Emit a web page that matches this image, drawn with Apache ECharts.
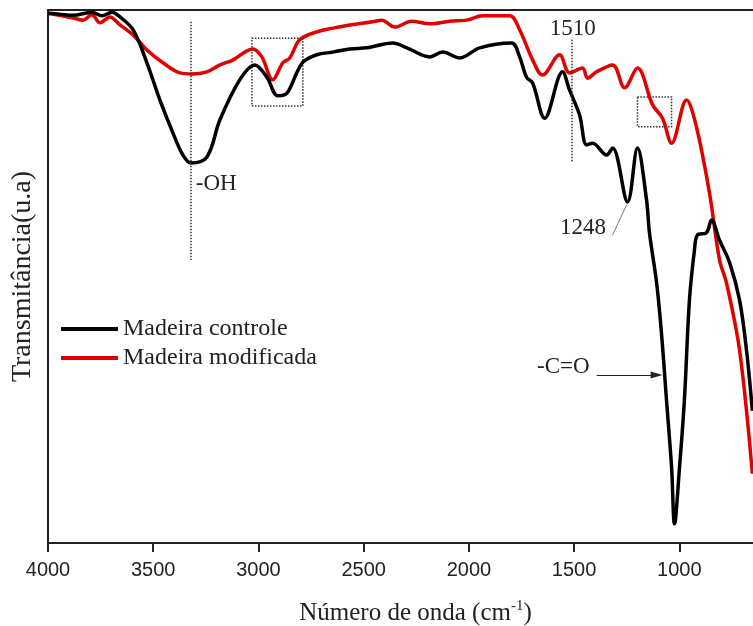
<!DOCTYPE html>
<html><head><meta charset="utf-8">
<script src="https://cdn.jsdelivr.net/npm/echarts@6/dist/echarts.min.js"></script>
<style>html,body{margin:0;padding:0;background:#fff}#c{width:753px;height:626px}</style>
</head><body><div id="c"></div>
<script>
// wavenumber (cm-1) and transmittance (a.u.)
const controlWn = [4000,3943,3881,3791,3744,3696,3658,3596,3530,3468,3406,3359,3321,3245,3183,3089,3017,2960,2908,2865,2818,2789,2723,2647,2566,2485,2362,2295,2186,2125,2044,1949,1797,1759,1726,1697,1640,1555,1522,1474,1441,1412,1346,1317,1246,1199,1156,1142,1108,1085,1061,1037,1023,999,976,952,928,914,871,847,809,762,714,681,653];
const controlT  = [99.4,99.2,99.0,99.6,98.9,99.6,98.7,96.3,90.1,83.1,76.9,72.8,71.3,72.4,79.4,86.9,89.7,87.4,83.9,84.4,88.2,90.2,91.6,92.1,92.7,92.9,93.8,92.9,91.2,92.1,91.0,92.9,93.8,91.2,87.4,86.3,79.7,88.4,85.0,80.3,74.7,75.0,72.8,74.1,64.0,74.1,64.4,58.2,48.8,39.4,26.8,14.3,3.6,14.3,26.8,45.6,55.0,57.8,58.2,60.6,56.8,52.7,45.6,36.2,24.8];
const modWn = [4000,3881,3834,3791,3753,3706,3658,3596,3530,3454,3373,3316,3245,3183,3122,3027,2984,2932,2884,2851,2804,2723,2647,2566,2457,2414,2352,2272,2186,2091,2011,1935,1806,1759,1697,1650,1569,1522,1460,1436,1393,1317,1260,1199,1127,1080,1037,966,919,857,809,776,714,653];
const modT  = [99.4,98.5,98.1,99.1,97.6,98.7,97.2,95.3,92.5,90.1,88.2,88.0,88.4,89.7,90.6,92.7,91.2,86.9,90.1,91.0,94.4,95.9,96.6,97.2,97.8,98.1,96.8,97.9,97.4,97.9,98.1,98.9,98.9,96.3,90.6,87.8,91.6,88.2,89.1,87.2,88.4,89.7,85.4,89.1,82.2,79.7,75.0,83.1,78.1,65.7,53.1,48.8,36.2,13.0];
const xTicks = [1000,1500,2000,2500,3000,3500,4000];
const seriesNames = ['Madeira controle','Madeira modificada'];

const zip = (a,b)=>a.map((v,i)=>[v,b[i]]);
const chart = echarts.init(document.getElementById('c'));
const serif = 'Liberation Serif';
const axisColor = '#222';
const noSym = {symbol:'none', symbolSize:0};
const annot = (text, pos, position, offset) => ({coord:pos, symbol:'circle', symbolSize:1,
  itemStyle:{color:'rgba(0,0,0,0)'},
  label:{show:true, formatter:text, fontFamily:serif, fontSize:23, color:'#222', position:position, offset:offset||[0,0], distance:0}});

chart.setOption({
  animation:false,
  grid:{left:48, right:0, top:10, bottom:83, outerBoundsMode:'none', containLabel:false},
  legend:{
    left:56, top:312, orient:'vertical', itemWidth:57, itemHeight:4, itemGap:5, icon:'rect',
    textStyle:{fontFamily:serif, fontSize:24, color:'#222'},
    data:seriesNames
  },
  xAxis:[{
    type:'value', inverse:true, min:650, max:4000,
    name:'{a|Número de onda (cm}{s|-1}{a|)}', nameLocation:'middle', nameGap:56,
    nameTextStyle:{padding:[0,0,0,30], rich:{a:{fontFamily:serif, fontSize:25, color:'#222'}, s:{fontFamily:serif, fontSize:15, color:'#222', verticalAlign:'top', padding:[0,0,14,0]}}},
    axisLine:{show:true, lineStyle:{color:axisColor, width:2}},
    axisTick:{show:true, length:9, lineStyle:{color:axisColor, width:2}, customValues:xTicks},
    axisLabel:{fontFamily:'Liberation Sans', fontSize:20, color:'#222', margin:17, customValues:xTicks, formatter:v=>String(v)},
    splitLine:{show:false}
  },{
    type:'value', position:'top', inverse:true, min:650, max:4000,
    axisLine:{show:true, lineStyle:{color:axisColor, width:2}},
    axisTick:{show:false}, axisLabel:{show:false}, splitLine:{show:false}
  }],
  yAxis:{
    type:'value', min:0, max:100,
    name:'Transmitância(u.a)', nameLocation:'middle', nameGap:11,
    nameTextStyle:{fontFamily:serif, fontSize:28, color:'#222'},
    axisLine:{show:true, lineStyle:{color:axisColor, width:2}},
    axisTick:{show:false}, axisLabel:{show:false}, splitLine:{show:false}
  },
  series:[
    Object.assign({name:seriesNames[0], type:'line', data:zip(controlWn,controlT), smooth:0.35,
      lineStyle:{color:'#000', width:3.5}, itemStyle:{color:'#000'}, z:3,
      markLine:{silent:true, symbol:['none','none'], label:{show:false},
        lineStyle:{color:'#333', type:'dotted', width:1.5},
        data:[
          [{coord:[3321,97.8]},{coord:[3321,53.1]}],
          [{coord:[1512,94.4]},{coord:[1512,71.5]}],
          [{coord:[1317,57.8], lineStyle:{type:'solid', width:0.8, color:'#555'}},{coord:[1251,63.4]}],
          [{coord:[1393,31.5], symbol:'none', lineStyle:{type:'solid', width:1, color:'#222'}},{coord:[1108,31.5], symbol:'triangle', symbolSize:[7,12]}]
        ]},
      markArea:{silent:true, itemStyle:{color:'rgba(0,0,0,0)', borderColor:'#333', borderType:'dotted', borderWidth:1.5},
        data:[
          [{coord:[3031,94.7]},{coord:[2789,82.0]}],
          [{coord:[1199,83.7]},{coord:[1037,78.1]}]
        ]},
      markPoint:{silent:true, data:[
          annot('-OH',[3300,67.3],'right'),
          annot('1510',[1507,96.5],'inside'),
          annot('1248',[1346,59.2],'left'),
          annot('-C=O',[1424,33.0],'left')
        ]}
    }, noSym),
    Object.assign({name:seriesNames[1], type:'line', data:zip(modWn,modT), smooth:0.35,
      lineStyle:{color:'#e00000', width:3.5}, itemStyle:{color:'#e00000'}, z:2}, noSym)
  ]
});
</script></body></html>
